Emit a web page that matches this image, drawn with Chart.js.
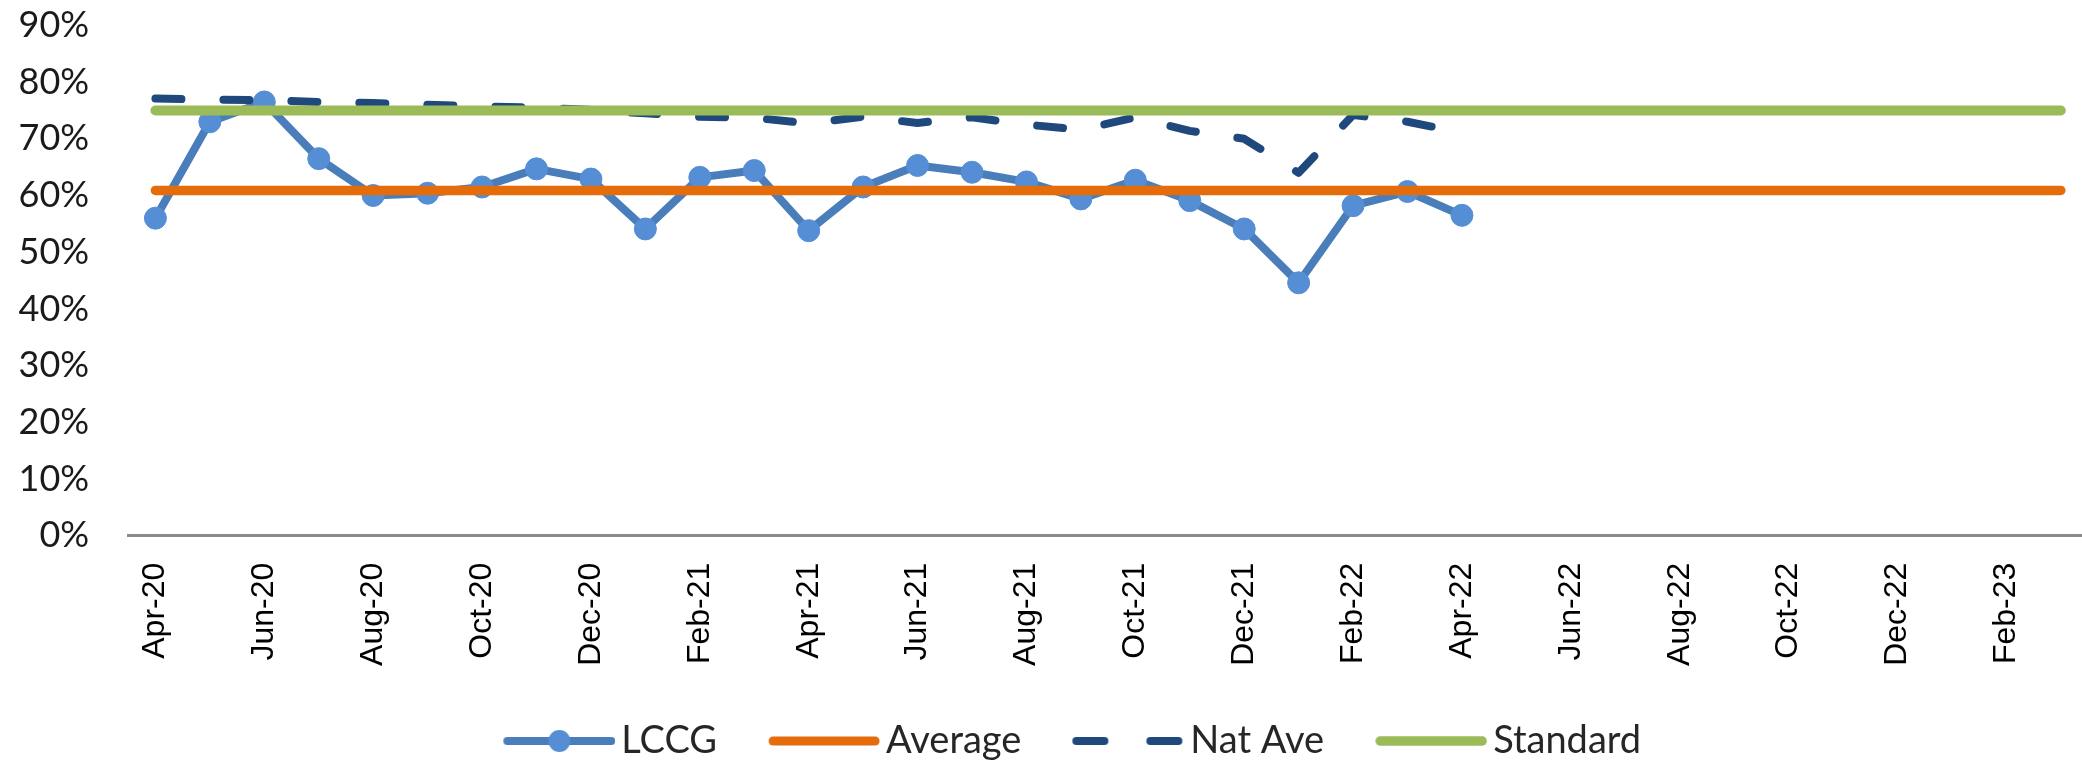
<!DOCTYPE html>
<html>
<head>
<meta charset="utf-8">
<script src="https://cdn.jsdelivr.net/npm/chart.js@4/dist/chart.umd.min.js"></script>
<style>
html, body { margin: 0; padding: 0; background: #ffffff; overflow: hidden; width: 2082px; height: 765px; }
canvas { display: block; }
</style>
</head>
<body>
<canvas id="chart" width="2100" height="765" style="width:2100px;height:765px"></canvas>
<script>
// ---- Data ----
const months = ['Apr-20','May-20','Jun-20','Jul-20','Aug-20','Sep-20','Oct-20','Nov-20','Dec-20','Jan-21','Feb-21','Mar-21',
                'Apr-21','May-21','Jun-21','Jul-21','Aug-21','Sep-21','Oct-21','Nov-21','Dec-21','Jan-22','Feb-22','Mar-22',
                'Apr-22','May-22','Jun-22','Jul-22','Aug-22','Sep-22','Oct-22','Nov-22','Dec-22','Jan-23','Feb-23','Mar-23'];

const lccg = [56.0, 73.0, 76.5, 66.5, 60.0, 60.4, 61.5, 64.7, 62.9, 54.1, 63.2, 64.4,
              53.8, 61.5, 65.3, 64.1, 62.4, 59.4, 62.7, 59.1, 54.1, 44.6, 58.2, 60.7,
              56.5];

const natAve = [77.1, 76.9, 76.8, 76.5, 76.3, 76.0, 75.7, 75.5, 75.1, 74.5, 73.9, 73.7,
                72.7, 73.9, 72.8, 73.8, 72.5, 71.6, 73.8, 71.4, 70.0, 64.0, 74.2, 73.0,
                71.1];

const average = [60.9, 60.9, 60.9, 60.9, 60.9, 60.9, 60.9, 60.9, 60.9, 60.9, 60.9, 60.9,
                 60.9, 60.9, 60.9, 60.9, 60.9, 60.9, 60.9, 60.9, 60.9, 60.9, 60.9, 60.9,
                 60.9, 60.9, 60.9, 60.9, 60.9, 60.9, 60.9, 60.9, 60.9, 60.9, 60.9, 60.9];

const standard = [75, 75, 75, 75, 75, 75, 75, 75, 75, 75, 75, 75,
                  75, 75, 75, 75, 75, 75, 75, 75, 75, 75, 75, 75,
                  75, 75, 75, 75, 75, 75, 75, 75, 75, 75, 75, 75];

const yTicks = [0, 10, 20, 30, 40, 50, 60, 70, 80, 90];

// ---- Styles ----
const C_LCCG = '#4A7EBB', C_LCCG_PT = '#558ED5';
const C_AVG = '#E46C0A';
const C_NAT = '#1F497D';
const C_STD = '#9BBB59';

// legend swatches (not data marks); the visible part sits in the right 112px
function swatch(fn) {
  const c = document.createElement('canvas');
  c.width = 172; c.height = 26;
  const g = c.getContext('2d');
  g.translate(60, 0);
  g.lineCap = 'round';
  fn(g);
  return c;
}
const symLCCG = swatch(g => {
  g.strokeStyle = C_LCCG; g.lineWidth = 8;
  g.beginPath(); g.moveTo(4, 13); g.lineTo(108, 13); g.stroke();
  g.fillStyle = C_LCCG_PT; g.beginPath(); g.arc(56, 13, 11, 0, Math.PI * 2); g.fill();
});
const symAvg = swatch(g => {
  g.strokeStyle = C_AVG; g.lineWidth = 9;
  g.beginPath(); g.moveTo(5, 13); g.lineTo(107, 13); g.stroke();
});
const symNat = swatch(g => {
  g.strokeStyle = C_NAT; g.lineWidth = 8;
  g.setLineDash([28, 46]);
  g.beginPath(); g.moveTo(4, 13); g.lineTo(106, 13); g.stroke();
});
const symStd = swatch(g => {
  g.strokeStyle = C_STD; g.lineWidth = 9.5;
  g.beginPath(); g.moveTo(5, 13); g.lineTo(107, 13); g.stroke();
});
const symbols = [symLCCG, symAvg, symNat, symStd];

const ctx = document.getElementById('chart').getContext('2d');
new Chart(ctx, {
  type: 'line',
  data: {
    labels: months,
    datasets: [
      { label: 'LCCG', data: lccg, borderColor: C_LCCG, borderWidth: 8, pointRadius: 11,
        pointBackgroundColor: C_LCCG_PT, pointBorderColor: C_LCCG_PT, pointBorderWidth: 1,
        borderJoinStyle: 'round', borderCapStyle: 'round', tension: 0, order: 4 },
      { label: 'Average', data: average, borderColor: C_AVG, borderWidth: 9.5, pointRadius: 0,
        borderCapStyle: 'round', tension: 0, order: 3 },
      { label: 'Nat Ave', data: natAve, borderColor: C_NAT, borderWidth: 8, pointRadius: 0,
        borderDash: [26, 42], borderCapStyle: 'round', borderJoinStyle: 'round', tension: 0, order: 2 },
      { label: 'Standard', data: standard, borderColor: C_STD, borderWidth: 10, pointRadius: 0,
        borderCapStyle: 'round', tension: 0, order: 1 }
    ]
  },
  options: {
    responsive: false,
    animation: false,
    events: [],
    layout: { padding: { left: 0, right: 2.5, top: 25.4, bottom: -5 } },
    plugins: {
      tooltip: { enabled: false },
      legend: {
        position: 'bottom',
        align: 'center',
        labels: {
          usePointStyle: true,
          pointStyleWidth: 146,
          boxHeight: 20,
          padding: 4,
          color: '#262626',
          font: { family: 'Lato', size: 38 },
          generateLabels: (chart) => chart.data.datasets.map((ds, i) => ({
            text: ds.label, pointStyle: symbols[i], datasetIndex: i, hidden: false,
            lineWidth: 0, fillStyle: 'rgba(0,0,0,0)', strokeStyle: 'rgba(0,0,0,0)', fontColor: '#262626'
          }))
        }
      }
    },
    scales: {
      x: {
        type: 'category',
        offset: true,
        grid: { display: false, drawTicks: false },
        border: { display: true, color: '#898989', width: 3 },
        ticks: {
          autoSkip: false,
          minRotation: 90,
          maxRotation: 90,
          padding: 27,
          color: '#000000',
          font: { family: 'Liberation Sans', size: 32 },
          callback: function (v, i) { return i % 2 === 0 ? months[i] : null; }
        },
        afterFit: (s) => { s.height = 182.3; s.paddingLeft = 0; s.paddingRight = 0; }
      },
      y: {
        min: 0,
        max: 90,
        grid: { display: false, drawTicks: false },
        border: { display: false },
        afterBuildTicks: (s) => { s.ticks = yTicks.map(v => ({ value: v })); },
        ticks: {
          padding: 39,
          color: '#1a1a1a',
          font: { family: 'Lato', size: 36 },
          callback: (v) => v + '%'
        },
        afterFit: (s) => { s.width = 128.2; s.paddingTop = 0; s.paddingBottom = 0; }
      }
    }
  }
});
</script>
</body>
</html>
